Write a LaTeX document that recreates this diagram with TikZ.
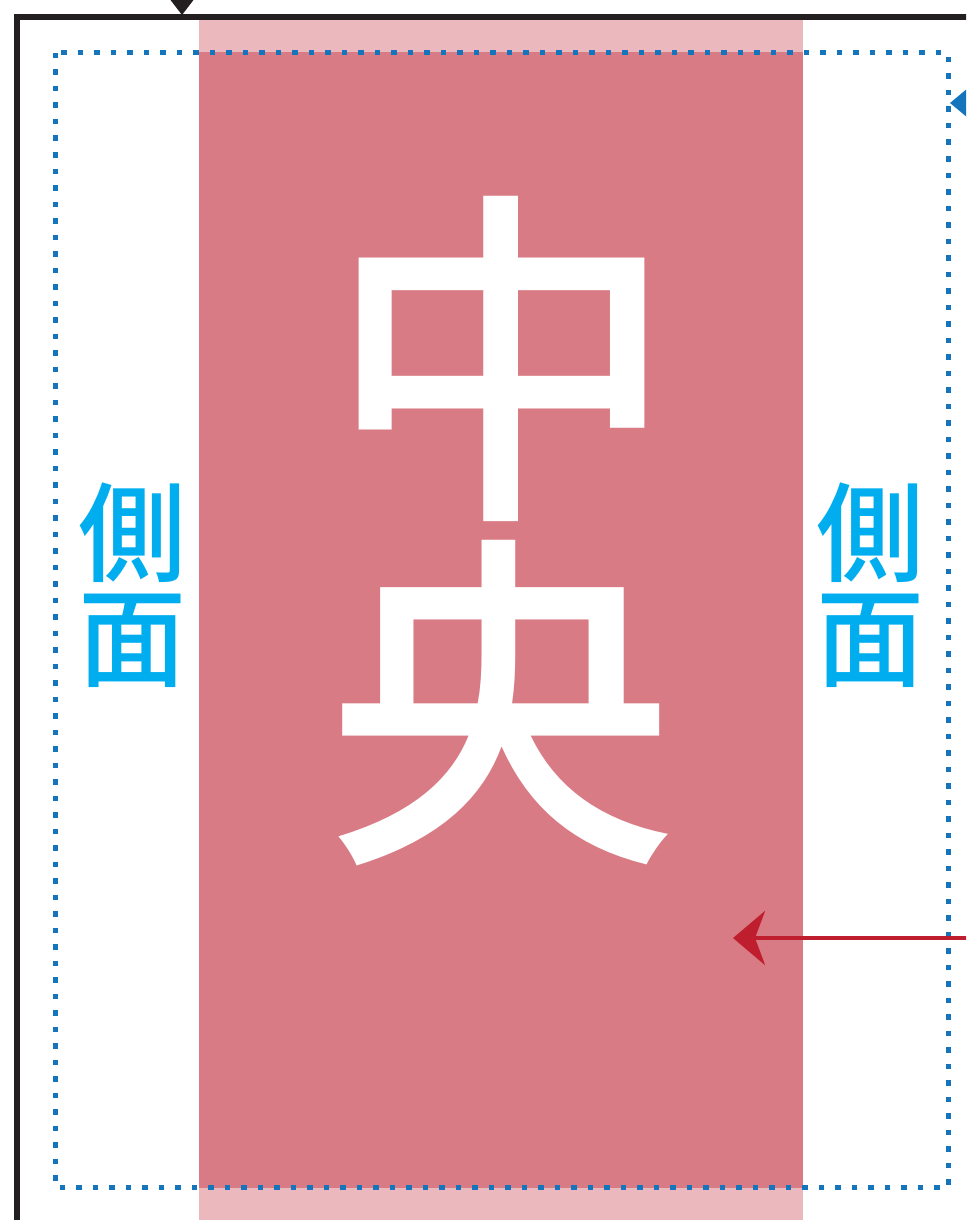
\documentclass[tikz,border=0pt]{standalone}
\usepackage{fontspec}
\newfontfamily\cjk{Noto Sans CJK JP Medium}
\usetikzlibrary{arrows.meta}
\definecolor{framec}{HTML}{231F20}
\definecolor{lightpink}{HTML}{EBB9BD}
\definecolor{midpink}{HTML}{D97B84}
\definecolor{dotblue}{HTML}{1475BD}
\definecolor{sidecyan}{HTML}{00AEEF}
\definecolor{arrowred}{HTML}{BE1E2D}
\tikzset{
  bigchar/.style={inner sep=0pt, text=white, font=\cjk\fontsize{351}{351}\selectfont},
  sidechar/.style={inner sep=0pt, text=sidecyan, font=\cjk\fontsize{108}{108}\selectfont},
  dotline/.style={draw=dotblue, line width=5pt, dash pattern=on 5.5pt off 11pt},
}
\begin{document}
\begin{tikzpicture}[x=1pt,y=-1pt]
\useasboundingbox (0,0) rectangle (966,1220);
\clip (0,0) rectangle (966,1220);
% pink bands
\fill[lightpink] (199,20) rectangle (803,1220);
\fill[midpink] (199,52) rectangle (803,1188);
% frame
\draw[framec, line width=5.5pt] (1000,17) -- (17,17) -- (17,1260);
% top triangle
\fill[framec] (169,-2) -- (195,-2) -- (182,15) -- cycle;
% dotted rectangle
\draw[dotline] (55,53) rectangle (948,1187);
% blue triangle
\fill[dotblue] (968,88) -- (968,118) -- (950,103) -- cycle;
% texts
\node[bigchar] (zhong) at (502,359) {中};
\node[bigchar] (yang) at (501,703) {央};
\node[sidechar] (sideL1) at (132,533) {側};
\node[sidechar] (sideL2) at (132,641) {面};
\node[sidechar] (sideR1) at (870,533) {側};
\node[sidechar] (sideR2) at (870,641) {面};
% red arrow
\coordinate (rstart) at (970,938);
\coordinate (rtip) at (733,938);
\draw[arrowred, line width=4.5pt, -{Stealth[length=32pt,width=54pt,inset=10pt]}] (rstart) -- (rtip);
\end{tikzpicture}
\end{document}
